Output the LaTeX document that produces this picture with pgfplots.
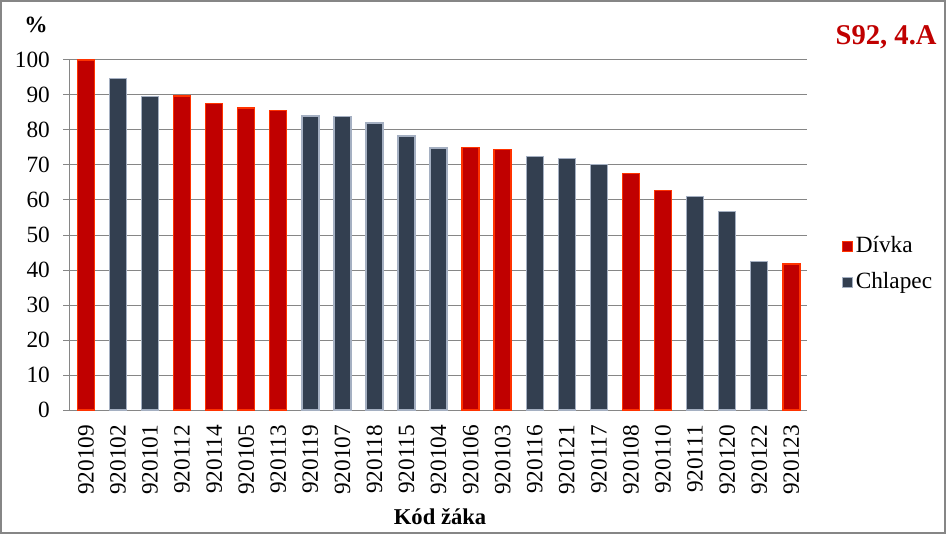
\documentclass[border=0pt]{standalone}
\usepackage{pgfplots}
\pgfplotsset{compat=1.18}
\usepackage{fontspec}
\setmainfont{Liberation Serif}
\definecolor{dred}{HTML}{C00000}
\definecolor{dredb}{HTML}{FF3300}
\definecolor{navy}{HTML}{333F50}
\definecolor{navyb}{HTML}{A5B0C2}
\definecolor{gridg}{HTML}{868686}
\definecolor{titler}{HTML}{C00000}
\begin{document}
\begin{tikzpicture}
\fontsize{17.5}{20}\selectfont
\begin{axis}[
  at={(0,0)}, anchor=south west,
  scale only axis,
  width=554.25pt, height=263.25pt,
  xmin=-0.5, xmax=22.5,
  ymin=0, ymax=100,
  ytick={0,10,...,100},
  xtick={0,...,22},
  xticklabels={920109,920102,920101,920112,920114,920105,920113,920119,920107,920118,920115,920104,920106,920103,920116,920121,920117,920108,920110,920111,920120,920122,920123},
  xticklabel style={rotate=90, anchor=east, font=\fontsize{17.5}{20}\selectfont},
  yticklabel style={font=\fontsize{17.5}{20}\selectfont, xshift=-4pt},
  /pgf/number format/assume math mode=true,
  axis x line*=bottom, axis y line*=left,
  axis line style={gridg, line width=0.75pt, -},
  x axis line style={-},
  y axis line style={-},
  tick style={gridg, line width=0.75pt},
  x tick style={draw=none},
  major tick length=5pt,
  tick align=outside,
  ymajorgrids,
  grid style={gridg, line width=0.75pt},
  ybar, bar width=0.53, bar shift=0pt,
  clip=false,
  legend style={at={(1.047,0.416)}, anchor=west, draw=none, fill=none,
    font=\fontsize{17.5}{20}\selectfont, row sep=8pt,
    inner xsep=0pt,
    legend cell align=left},
  legend image code/.code={\draw[#1, line width=0.6pt] (0pt,-3.8pt) rectangle (7.6pt,3.8pt);},
]
\addplot[fill=dred, draw=dredb, line width=1.1pt] coordinates {
(0,100) (3,89.7) (4,87.6) (5,86.3) (6,85.5) (12,75.0) (13,74.4) (17,67.6) (18,62.7) (22,41.7)};
\addlegendentry{Dívka}
\addplot[fill=navy, draw=navyb, line width=1.1pt] coordinates {
(1,94.7) (2,89.5) (7,84.0) (8,83.8) (9,82.0) (10,78.3) (11,74.9) (14,72.4) (15,71.8) (16,70.1) (19,61.0) (20,56.7) (21,42.5)};
\addlegendentry{Chlapec}
\end{axis}
\draw[gridg, line width=1.5pt] (-51.75pt,-92.25pt) rectangle (657.75pt,307.5pt);
\node[font=\fontsize{21.5}{24}\selectfont\bfseries, text=titler] at (613.5pt,280.5pt) {S92, 4.A};
\node[font=\fontsize{17.5}{20}\selectfont\bfseries] at (-25.5pt,289.5pt) {\%};
\node[font=\fontsize{17}{20}\selectfont\bfseries] at (278.25pt,-80.25pt) {Kód žáka};
\end{tikzpicture}
\end{document}
